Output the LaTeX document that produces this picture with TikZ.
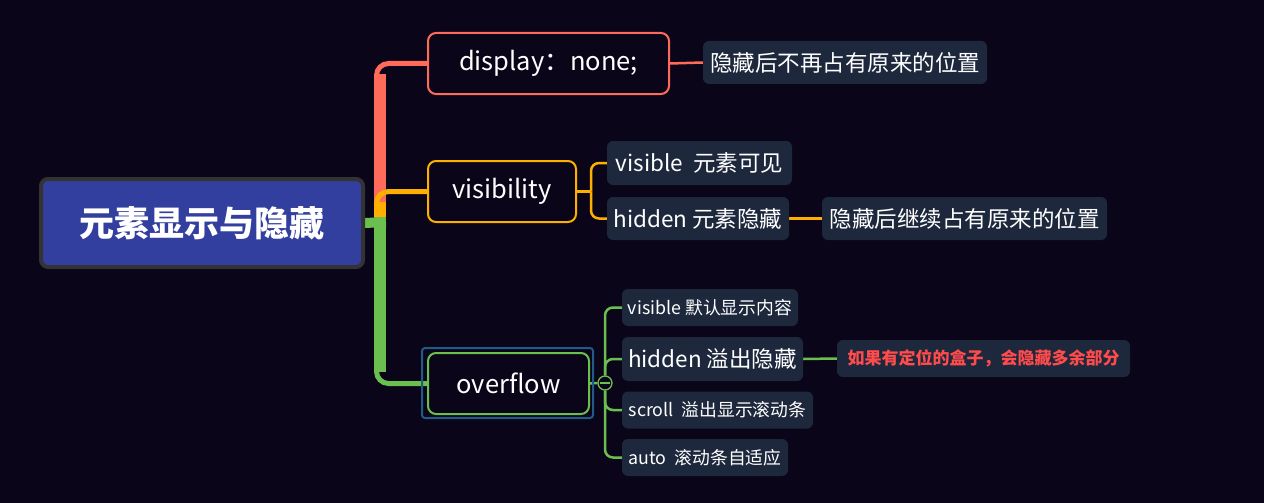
\documentclass[tikz,border=0pt]{standalone}
\usepackage{fontspec}
\setmainfont{Noto Sans CJK SC}
\newcommand\myfs[1]{\fontsize{#1}{#1}\selectfont}
\definecolor{bgc}{HTML}{0A0518}
\definecolor{boxc}{HTML}{1E283D}
\definecolor{rootc}{HTML}{323F9E}
\definecolor{rootb}{HTML}{333333}
\definecolor{cRed}{HTML}{FF6B5A}
\definecolor{cOrg}{HTML}{FFAF00}
\definecolor{cGrn}{HTML}{6BBF4E}
\definecolor{cSel}{HTML}{1F5A88}
\definecolor{cTxtRed}{HTML}{FF4B4B}
\pgfdeclarelayer{back}
\pgfsetlayers{back,main}
\tikzset{
  topic/.style={rectangle, rounded corners=8, line width=2, fill=bgc, text=white, inner sep=0, font=\myfs{25.5}},
  sub/.style={rectangle, rounded corners=6, fill=boxc, text=white, inner sep=0, font=\myfs{22.5}},
  subs/.style={sub, font=\myfs{17.8}},
  trunk/.style={line width=12},
  limb/.style={line width=5, rounded corners=12},
  twig/.style={line width=2.5, rounded corners=8},
}
\begin{document}
\begin{tikzpicture}[x=1pt,y=-1pt]
\begin{pgfonlayer}{back}
\fill[bgc] (0,0) rectangle (1264,503);
\end{pgfonlayer}
\useasboundingbox (0,0) rectangle (1264,503);

\node[rectangle, rounded corners=7, fill=rootc, draw=rootb, line width=4, minimum width=322, minimum height=88, inner sep=0, text=white, font=\myfs{35}\bfseries] (root) at (202,223) {元素显示与隐藏};

\node[topic, draw=cRed, minimum width=241, minimum height=61] (disp) at (548.5,63.5) {display：none;};
\node[sub, minimum width=284, minimum height=43] (dn1) at (845,62.5) {隐藏后不再占有原来的位置};

\node[topic, draw=cOrg, minimum width=148, minimum height=61] (vis) at (502,191.5) {visibility};
\node[sub, minimum width=185, minimum height=44] (v1) at (699.5,163) {visible\ \ 元素可见};
\node[sub, minimum width=182, minimum height=43] (v2) at (698,218.5) {hidden 元素隐藏};
\node[sub, minimum width=285, minimum height=43] (v2a) at (964.5,218.5) {隐藏后继续占有原来的位置};

\node[topic, draw=cGrn, minimum width=161, minimum height=61] (ovf) at (508.5,383.5) {overflow};
\node[draw=cSel, line width=2, rounded corners=3, minimum width=171, minimum height=70, inner sep=0] (sel) at (507.5,383) {};
\node[subs, minimum width=176, minimum height=37] (o1) at (710,307.5) {visible 默认显示内容};
\node[sub, minimum width=181, minimum height=44] (o2) at (712.5,359) {hidden 溢出隐藏};
\node[subs, minimum width=191, minimum height=37] (o3) at (717.5,410) {scroll\ \ 溢出显示滚动条};
\node[subs, minimum width=166, minimum height=37] (o4) at (705,457.5) {auto\ \ 滚动条自适应};
\node[sub, minimum width=293, minimum height=37, text=cTxtRed, font=\myfs{17}\bfseries] (o2a) at (983.5,358.5) {如果有定位的盒子，会隐藏多余部分};

\node[circle, draw=cGrn, fill=bgc, line width=1.3, minimum size=14, inner sep=0] (col) at (605,383) {};
\draw[cGrn, line width=1.3] ([xshift=-5]col.center) -- ([xshift=5]col.center);

\coordinate (tk) at (380,222);
\coordinate (vb) at (591,191.5);

\begin{pgfonlayer}{back}
% trunk
\draw[cRed, trunk] (tk |- 0,215) -- (tk |- 0,74);
\draw[cRed, limb] (376.5,85) |- (disp.west);
\draw[cOrg, trunk] (tk |- 0,217) -- (tk |- 0,202);
\draw[cOrg, limb] (376.5,212) |- (vis.west);
\draw[cGrn, trunk] (tk |- 0,217) -- (tk |- 0,372);
\draw[cGrn, limb] (376.5,360) |- (ovf.west);
\draw[cGrn, line width=10] (root.east) -- (386,222);
% display
\draw[cRed, line width=2.5] (disp.east) -- (dn1.west);
% visibility
\draw[cOrg, line width=2.5] (vis.east) -- (vb);
\draw[cOrg, twig] (vb) |- (v1.west);
\draw[cOrg, twig] (vb) |- (v2.west);
\draw[cOrg, line width=2.5] (v2.east) -- (v2a.west);
% overflow
\draw[cGrn, line width=2.5] (ovf.east) -- (col.west);
\draw[cGrn, twig] (col.north) |- (o1.west);
\draw[cGrn, twig] (col.north) |- (o2.west);
\draw[cGrn, twig] (col.south) |- (o3.west);
\draw[cGrn, twig] (col.south) |- (o4.west);
\draw[cGrn, line width=2.5] (o2.east) -- (o2a.west);
\end{pgfonlayer}
\end{tikzpicture}
\end{document}
